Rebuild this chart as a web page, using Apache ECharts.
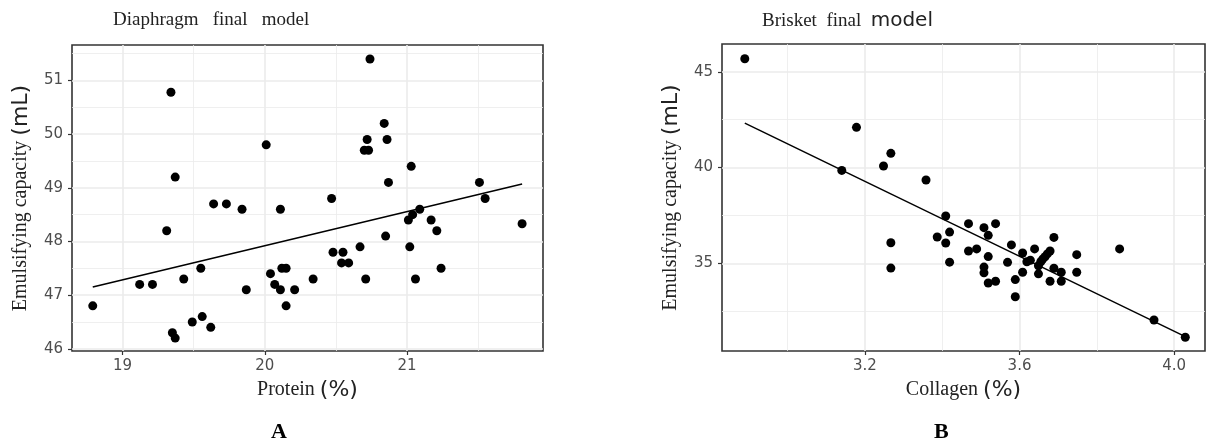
<!DOCTYPE html>
<html>
<head>
<meta charset="utf-8">
<script src="https://cdn.jsdelivr.net/npm/echarts@6/dist/echarts.min.js"></script>
<style>
  html, body { margin: 0; padding: 0; background: #fff; }
  #chart { width: 1207px; height: 443px; }
</style>
</head>
<body>
<div id="chart"></div>
<script>
// Diaphragm panel (A)
const diaProtein = [18.79, 19.12, 19.21, 19.31, 19.34, 19.35, 19.37, 19.37, 19.43, 19.49,
  19.55, 19.56, 19.62, 19.64, 19.73, 19.84, 19.87, 20.01, 20.04, 20.07,
  20.11, 20.11, 20.12, 20.15, 20.15, 20.21, 20.34, 20.47, 20.48, 20.55,
  20.54, 20.59, 20.67, 20.70, 20.73, 20.72, 20.71, 20.74, 20.84, 20.86,
  20.85, 20.87, 21.01, 21.02, 21.03, 21.04, 21.06, 21.09, 21.17, 21.21,
  21.24, 21.51, 21.55, 21.81];
const diaEc = [46.8, 47.2, 47.2, 48.2, 50.78, 46.3, 46.2, 49.2, 47.3, 46.5,
  47.5, 46.6, 46.4, 48.7, 48.7, 48.6, 47.1, 49.8, 47.4, 47.2,
  47.1, 48.6, 47.5, 47.5, 46.8, 47.1, 47.3, 48.8, 47.8, 47.8,
  47.6, 47.6, 47.9, 49.7, 49.7, 49.9, 47.3, 51.4, 50.2, 49.9,
  48.1, 49.1, 48.4, 47.9, 49.4, 48.5, 47.3, 48.6, 48.4, 48.2,
  47.5, 49.1, 48.8, 48.33];
const diaFitX = [18.79, 21.81];
const diaFitY = [47.15, 49.07];
const diaXTicks = [19, 20, 21];
const diaXMinor = [19.5, 20.5, 21.5];
const diaYTicks = [46, 47, 48, 49, 50, 51];
const diaYMinor = [46.5, 47.5, 48.5, 49.5, 50.5, 51.5];

// Brisket panel (B)
const briCollagen = [2.889, 3.140, 3.178, 3.248, 3.267, 3.267, 3.267, 3.358, 3.387, 3.409,
  3.409, 3.419, 3.419, 3.468, 3.468, 3.489, 3.508, 3.508, 3.508, 3.519,
  3.519, 3.519, 3.538, 3.538, 3.569, 3.579, 3.589, 3.589, 3.608, 3.608,
  3.619, 3.628, 3.639, 3.649, 3.649, 3.655, 3.660, 3.666, 3.672, 3.679,
  3.679, 3.689, 3.689, 3.708, 3.708, 3.748, 3.748, 3.859, 3.948, 4.029];
const briEc = [45.68, 39.85, 42.10, 40.08, 40.74, 36.07, 34.75, 39.35, 36.37, 37.47,
  36.06, 36.63, 35.06, 37.07, 35.64, 35.75, 36.86, 34.80, 34.50, 36.46,
  35.35, 33.97, 37.07, 34.06, 35.05, 35.96, 34.15, 33.25, 35.54, 34.53,
  35.08, 35.16, 35.75, 34.87, 34.45, 35.08, 35.22, 35.34, 35.49, 35.64,
  34.06, 36.35, 34.74, 34.53, 34.06, 35.45, 34.53, 35.75, 32.04, 31.14];
const briFitX = [2.889, 4.029];
const briFitY = [42.32, 31.17];
const briXTicks = [3.2, 3.6, 4.0];
const briXMinor = [3.0, 3.4, 3.8];
const briYTicks = [35, 40, 45];
const briYMinor = [32.5, 37.5, 42.5];

const serif = 'Liberation Serif';
const sans = 'DejaVu Sans';

function pairs(xs, ys) {
  return xs.map((x, i) => [x, ys[i]]);
}

function majorAxis(gridIndex, position, min, max, ticks, fmt, name, gap, margin) {
  return {
    type: 'value', gridIndex, position, min, max,
    name, nameLocation: 'middle', nameGap: gap,
    nameTextStyle: {
      fontFamily: serif, fontSize: 20, color: '#222',
      rich: { s: { fontFamily: sans, fontSize: 22, color: '#222' } }
    },
    axisLine: { show: false },
    axisTick: { show: true, length: 4, customValues: ticks, lineStyle: { color: '#333', width: 1.2 } },
    axisLabel: { show: true, customValues: ticks, color: '#4d4d4d', fontFamily: sans, fontSize: 15, margin, formatter: fmt },
    splitLine: { show: true, lineStyle: { color: '#ebebeb', width: 1.6 } }
  };
}

function minorAxis(gridIndex, position, min, max, ticks) {
  return {
    type: 'value', gridIndex, position, min, max,
    axisLine: { show: false },
    axisTick: { show: false, customValues: ticks },
    axisLabel: { show: false, customValues: ticks },
    splitLine: { show: true, lineStyle: { color: '#ebebeb', width: 0.8 } }
  };
}

const chart = echarts.init(document.getElementById('chart'));

chart.setOption({
  animation: false,
  backgroundColor: '#fff',
  title: [
    { text: 'Diaphragm   final   model', left: 108, top: 6,
      textStyle: { fontFamily: serif, fontSize: 19, fontWeight: 'normal', color: '#222' } },
    { text: 'Brisket  final  {s|model}', left: 757, top: 6,
      textStyle: { fontFamily: serif, fontSize: 19, fontWeight: 'normal', color: '#222',
        rich: { s: { fontFamily: sans, fontSize: 20, color: '#222' } } } },
    { text: 'A', left: 266, top: 416,
      textStyle: { fontFamily: serif, fontSize: 22, fontWeight: 'bold', color: '#000' } },
    { text: 'B', left: 929, top: 416,
      textStyle: { fontFamily: serif, fontSize: 22, fontWeight: 'bold', color: '#000' } }
  ],
  grid: [
    { left: 72, top: 45, width: 471, height: 306, outerBoundsMode: 'none', containLabel: false,
      show: true, borderColor: '#333', borderWidth: 1.6, backgroundColor: '#fff' },
    { left: 722, top: 44, width: 483, height: 307, outerBoundsMode: 'none', containLabel: false,
      show: true, borderColor: '#333', borderWidth: 1.6, backgroundColor: '#fff' }
  ],
  xAxis: [
    minorAxis(0, 'bottom', 18.644, 21.957, diaXMinor),
    majorAxis(0, 'bottom', 18.644, 21.957, diaXTicks, v => String(v), 'Protein {s|(%)}', 27, 8),
    minorAxis(1, 'bottom', 2.830, 4.080, briXMinor),
    majorAxis(1, 'bottom', 2.830, 4.080, briXTicks, v => v.toFixed(1), 'Collagen {s|(%)}', 27, 8)
  ],
  yAxis: [
    minorAxis(0, 'left', 45.959, 51.661, diaYMinor),
    majorAxis(0, 'left', 45.959, 51.661, diaYTicks, v => String(v), 'Emulsifying capacity {s|(mL)}', 40, 9),
    minorAxis(1, 'left', 30.42, 46.45, briYMinor),
    majorAxis(1, 'left', 30.42, 46.45, briYTicks, v => String(v), 'Emulsifying capacity {s|(mL)}', 40, 9)
  ],
  series: [
    { type: 'scatter', xAxisIndex: 1, yAxisIndex: 1, data: pairs(diaProtein, diaEc),
      symbolSize: 9, itemStyle: { color: '#000', opacity: 1 } },
    { type: 'line', xAxisIndex: 1, yAxisIndex: 1, data: pairs(diaFitX, diaFitY),
      symbol: 'none', lineStyle: { color: '#000', width: 1.5 } },
    { type: 'scatter', xAxisIndex: 3, yAxisIndex: 3, data: pairs(briCollagen, briEc),
      symbolSize: 9, itemStyle: { color: '#000', opacity: 1 } },
    { type: 'line', xAxisIndex: 3, yAxisIndex: 3, data: pairs(briFitX, briFitY),
      symbol: 'none', lineStyle: { color: '#000', width: 1.5 } }
  ]
});

window.addEventListener('resize', () => chart.resize());
</script>
</body>
</html>
